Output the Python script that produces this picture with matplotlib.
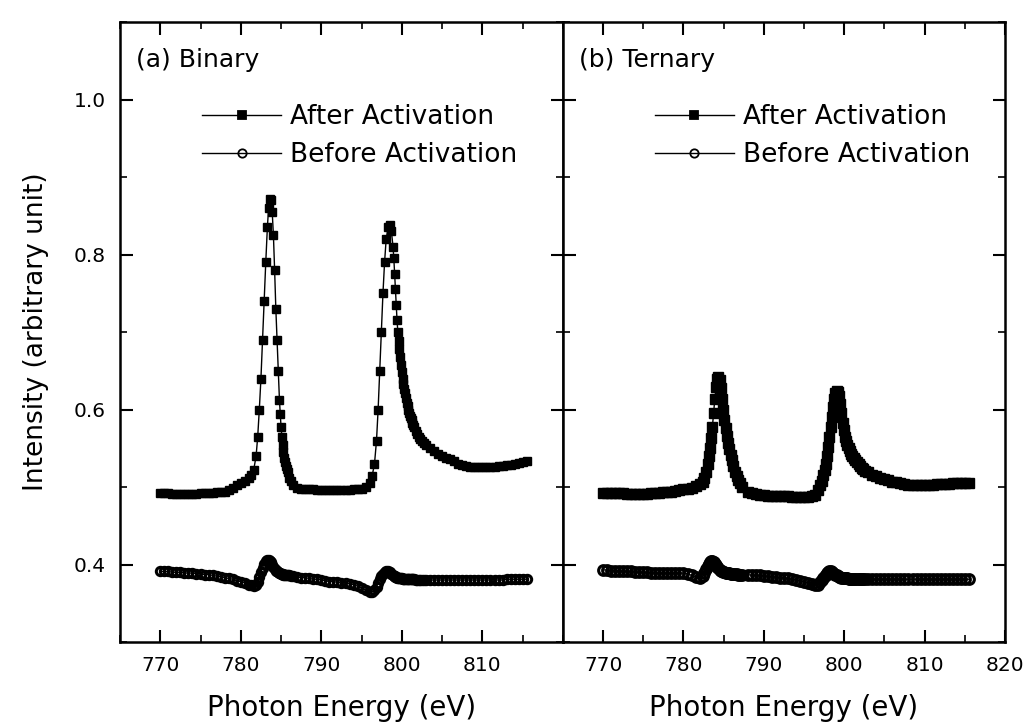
import matplotlib
matplotlib.use("Agg")
import matplotlib.pyplot as plt
from matplotlib.ticker import MultipleLocator

# ---- data (photon energy in eV, intensity in a.u.) ----
binary_x = ([770.0, 770.5, 771.0, 771.5, 772.0, 772.5, 773.0, 773.5, 774.0, 774.5, 775.0, 775.5,
             776.0, 776.5, 777.0, 777.5, 778.0, 778.5, 779.0, 779.5, 780.0, 780.5, 781.0]
            + [781.3, 781.6, 781.9, 782.1, 782.3, 782.5, 782.7, 782.9, 783.1, 783.3, 783.45, 783.6,
               783.75, 783.9, 784.05, 784.2, 784.35, 784.5, 784.65, 784.8, 784.9, 785.0, 785.1, 785.2,
               785.3, 785.4, 785.5, 785.6, 785.7, 785.8, 786.0, 786.2, 786.5]
            + [787.0, 787.5, 788.0, 788.5, 789.0, 789.5, 790.0, 790.5, 791.0, 791.5, 792.0, 792.5,
               793.0, 793.5, 794.0, 794.5, 795.0, 795.5]
            + [796.0, 796.3, 796.6, 796.85, 797.05, 797.25, 797.45, 797.65, 797.85, 798.05, 798.3, 798.5,
               798.7, 798.9]
            + [799.0, 799.1, 799.2, 799.3, 799.4, 799.5, 799.6, 799.7, 799.8, 799.9, 800.0, 800.1, 800.2,
               800.3, 800.4, 800.5, 800.6, 800.7, 800.8, 800.9, 801.0, 801.1, 801.2, 801.3, 801.4, 801.5]
            + [801.7, 801.9, 802.1, 802.3, 802.5, 802.7]
            + [803.0, 803.5, 804.0, 804.5, 805.0, 805.5, 806.0, 806.5, 807.0, 807.5, 808.0, 808.5, 809.0,
               809.5, 810.0, 810.5, 811.0, 811.5, 812.0, 812.5, 813.0, 813.5, 814.0, 814.5, 815.0, 815.5])

binary_after = ([0.492, 0.492, 0.492, 0.491, 0.491, 0.491, 0.491, 0.491, 0.491, 0.491, 0.492, 0.492,
                 0.492, 0.492, 0.493, 0.493, 0.494, 0.496, 0.499, 0.502, 0.505, 0.508, 0.511]
                + [0.515, 0.522, 0.540, 0.565, 0.600, 0.640, 0.690, 0.740, 0.790, 0.835, 0.860, 0.872,
                   0.870, 0.855, 0.825, 0.780, 0.730, 0.690, 0.650, 0.612, 0.594, 0.577, 0.565, 0.554,
                   0.545, 0.538, 0.532, 0.527, 0.523, 0.519, 0.512, 0.508, 0.503]
                + [0.499, 0.498, 0.497, 0.497, 0.497, 0.496, 0.496, 0.496, 0.496, 0.496, 0.496, 0.496,
                   0.496, 0.496, 0.497, 0.497, 0.498, 0.500]
                + [0.505, 0.514, 0.530, 0.560, 0.600, 0.650, 0.700, 0.750, 0.790, 0.820, 0.835, 0.838,
                   0.830, 0.810]
                + [0.795, 0.775, 0.755, 0.735, 0.715, 0.700, 0.688, 0.678, 0.668, 0.658, 0.648, 0.640, 0.633,
                   0.627, 0.621, 0.615, 0.609, 0.604, 0.599, 0.595, 0.592, 0.589, 0.586, 0.583, 0.580, 0.577]
                + [0.572, 0.568, 0.565, 0.562, 0.559, 0.557]
                + [0.554, 0.550, 0.546, 0.543, 0.540, 0.538, 0.536, 0.533, 0.530, 0.528, 0.527, 0.526, 0.526,
                   0.526, 0.526, 0.526, 0.526, 0.526, 0.527, 0.527, 0.528, 0.529, 0.530, 0.531, 0.532, 0.533])

binary_before = ([0.391, 0.391, 0.391, 0.390, 0.390, 0.390, 0.389, 0.389, 0.389, 0.388, 0.388, 0.387,
                  0.387, 0.386, 0.385, 0.384, 0.383, 0.382, 0.381, 0.379, 0.378, 0.376, 0.374]
                 + [0.373, 0.372, 0.374, 0.378, 0.384, 0.390, 0.396, 0.401, 0.404, 0.406, 0.406, 0.405,
                    0.403, 0.400, 0.397, 0.394, 0.392, 0.391, 0.390, 0.389, 0.389, 0.388, 0.388, 0.388,
                    0.387, 0.387, 0.387, 0.387, 0.386, 0.386, 0.386, 0.385, 0.385]
                 + [0.384, 0.383, 0.383, 0.382, 0.381, 0.381, 0.380, 0.379, 0.378, 0.378, 0.377, 0.376,
                    0.376, 0.375, 0.374, 0.372, 0.370, 0.367]
                 + [0.365, 0.365, 0.367, 0.371, 0.376, 0.381, 0.385, 0.388, 0.390, 0.391, 0.391, 0.390,
                    0.388, 0.386]
                 + [0.385, 0.385, 0.384, 0.384, 0.383, 0.383, 0.383, 0.382, 0.382, 0.382, 0.382, 0.381, 0.381,
                    0.381, 0.381, 0.381, 0.381, 0.381, 0.381, 0.381, 0.381, 0.381, 0.381, 0.381, 0.381, 0.381]
                 + [0.380, 0.380, 0.380, 0.380, 0.380, 0.380]
                 + [0.380, 0.380, 0.380, 0.380, 0.380, 0.380, 0.380, 0.380, 0.380, 0.380, 0.380, 0.380, 0.380,
                    0.380, 0.380, 0.380, 0.380, 0.380, 0.380, 0.380, 0.381, 0.381, 0.381, 0.381, 0.381, 0.381])

ternary_x = ([770.0, 770.5, 771.0, 771.5, 772.0, 772.5, 773.0, 773.5, 774.0, 774.5, 775.0, 775.5,
              776.0, 776.5, 777.0, 777.5, 778.0, 778.5, 779.0, 779.5, 780.0, 780.5, 781.0, 781.5, 782.0]
             + [782.4, 782.6, 782.8, 783.0, 783.15, 783.3, 783.45, 783.6, 783.75, 783.9, 784.05, 784.2,
                784.35, 784.5, 784.65, 784.8, 784.95, 785.1, 785.25, 785.4, 785.55, 785.7, 785.85, 786.0,
                786.2, 786.4, 786.6, 786.8, 787.0, 787.3]
             + [788.0, 788.5, 789.0, 789.5, 790.0, 790.5, 791.0, 791.5, 792.0, 792.5, 793.0, 793.5,
                794.0, 794.5, 795.0, 795.5, 796.0]
             + [796.4, 796.7, 797.0, 797.2, 797.4, 797.55, 797.7, 797.85, 798.0, 798.15, 798.3, 798.45,
                798.6, 798.75, 798.9, 799.05, 799.2, 799.35, 799.5, 799.65, 799.8, 799.95, 800.1, 800.25,
                800.4, 800.55, 800.7, 800.85, 801.0, 801.2, 801.4, 801.6, 801.8, 802.0, 802.2, 802.4, 802.6]
             + [803.0, 803.5, 804.0, 804.5, 805.0, 805.5, 806.0, 806.5, 807.0, 807.5, 808.0, 808.5, 809.0,
                809.5, 810.0, 810.5, 811.0, 811.5, 812.0, 812.5, 813.0, 813.5, 814.0, 814.5, 815.0, 815.5])

ternary_after = ([0.492, 0.492, 0.492, 0.492, 0.492, 0.492, 0.491, 0.491, 0.491, 0.491, 0.491, 0.491,
                  0.492, 0.492, 0.492, 0.493, 0.494, 0.494, 0.495, 0.496, 0.497, 0.498, 0.499, 0.501, 0.504]
                 + [0.506, 0.511, 0.519, 0.530, 0.540, 0.551, 0.563, 0.578, 0.596, 0.614, 0.629, 0.639,
                    0.642, 0.638, 0.628, 0.614, 0.600, 0.587, 0.576, 0.566, 0.557, 0.549, 0.541, 0.535,
                    0.527, 0.520, 0.514, 0.509, 0.505, 0.500]
                 + [0.494, 0.492, 0.491, 0.490, 0.490, 0.489, 0.489, 0.489, 0.488, 0.488, 0.488, 0.487,
                    0.487, 0.487, 0.487, 0.487, 0.489]
                 + [0.490, 0.496, 0.502, 0.508, 0.516, 0.522, 0.530, 0.540, 0.552, 0.564, 0.577, 0.590,
                    0.603, 0.614, 0.621, 0.624, 0.623, 0.617, 0.607, 0.595, 0.583, 0.573, 0.565, 0.559,
                    0.554, 0.550, 0.546, 0.543, 0.540, 0.537, 0.535, 0.532, 0.530, 0.527, 0.525, 0.523, 0.521]
                 + [0.519, 0.516, 0.514, 0.512, 0.510, 0.509, 0.507, 0.506, 0.505, 0.504, 0.503, 0.503, 0.503,
                    0.503, 0.503, 0.503, 0.503, 0.504, 0.504, 0.504, 0.504, 0.505, 0.505, 0.505, 0.505, 0.505])

ternary_before = ([0.393, 0.393, 0.392, 0.392, 0.392, 0.391, 0.391, 0.391, 0.390, 0.390, 0.390, 0.390,
                   0.389, 0.389, 0.389, 0.389, 0.389, 0.389, 0.389, 0.389, 0.389, 0.388, 0.386, 0.384, 0.383]
                  + [0.385, 0.389, 0.394, 0.398, 0.401, 0.403, 0.404, 0.404, 0.403, 0.401, 0.399, 0.397,
                     0.395, 0.393, 0.392, 0.391, 0.390, 0.390, 0.389, 0.389, 0.389, 0.389, 0.388, 0.388,
                     0.388, 0.388, 0.388, 0.387, 0.387, 0.387]
                  + [0.387, 0.386, 0.386, 0.386, 0.385, 0.385, 0.384, 0.384, 0.383, 0.383, 0.382, 0.381,
                     0.380, 0.379, 0.378, 0.376, 0.375]
                  + [0.374, 0.374, 0.377, 0.380, 0.383, 0.385, 0.387, 0.389, 0.390, 0.391, 0.391, 0.390,
                     0.389, 0.388, 0.387, 0.386, 0.385, 0.384, 0.384, 0.383, 0.383, 0.382, 0.382, 0.382,
                     0.382, 0.381, 0.381, 0.381, 0.381, 0.381, 0.381, 0.381, 0.381, 0.381, 0.381, 0.381, 0.381]
                  + [0.381, 0.381, 0.381, 0.381, 0.381, 0.381, 0.381, 0.381, 0.381, 0.381, 0.381, 0.381, 0.381,
                     0.381, 0.381, 0.381, 0.381, 0.381, 0.381, 0.381, 0.381, 0.381, 0.381, 0.381, 0.381, 0.381])

panels = [("(a) Binary", binary_x, binary_after, binary_before, [770, 780, 790, 800, 810], 6.0),
          ("(b) Ternary", ternary_x, ternary_after, ternary_before, [770, 780, 790, 800, 810, 820], 7.0)]

plt.rcParams['font.family'] = ['DejaVu Sans']

fig = plt.figure(figsize=(10.29, 7.25), dpi=100)
ax1 = fig.add_axes([0.1166, 0.1145, 0.4305, 0.855])
ax2 = fig.add_axes([0.5471, 0.1145, 0.4295, 0.855], sharey=ax1)

legend_x = [0.185, 0.208]

for i, (ax, (title, x, after, before, ticks, ms)) in enumerate(zip([ax1, ax2], panels)):
    ax.plot(x, after, '-', color='black', lw=1.0, marker='s', ms=ms,
            mfc='black', mec='black', label='After Activation')
    ax.plot(x, before, '-', color='black', lw=1.0, marker='o', ms=ms,
            mfc='none', mec='black', mew=2.2, label='Before Activation')

    ax.set_xlim(765, 820)
    ax.set_ylim(0.3, 1.1)
    ax.set_xticks(ticks)
    ax.xaxis.set_minor_locator(MultipleLocator(5))
    ax.yaxis.set_major_locator(MultipleLocator(0.2))
    ax.yaxis.set_minor_locator(MultipleLocator(0.1))
    ax.tick_params(which='both', direction='in', top=True, right=True)
    ax.tick_params(which='major', length=9, width=1.5, labelsize=14.5, pad=10)
    ax.tick_params(which='minor', length=5, width=1.2)
    for s in ax.spines.values():
        s.set_linewidth(1.8)

    ax.set_xlabel('Photon Energy (eV)', fontsize=20, labelpad=14)
    ax.text(0.036, 0.958, title, transform=ax.transAxes, fontsize=18, va='top', ha='left')

    leg = ax.legend(loc='upper left', bbox_to_anchor=(legend_x[i], 0.868), frameon=False,
                    fontsize=19, handlelength=3.0, handletextpad=0.35, labelspacing=0.45,
                    borderpad=0, borderaxespad=0, numpoints=1)
    for h in leg.legend_handles:
        h.set_markersize(6)
        h.set_markeredgewidth(1.3)

ax1.set_ylabel('Intensity (arbitrary unit)', fontsize=19, labelpad=18)
ax1.yaxis.set_major_formatter(plt.FuncFormatter(lambda v, p: f"{v:.1f}"))
plt.setp(ax2.get_yticklabels(), visible=False)

fig.savefig('out.png', dpi=100)
